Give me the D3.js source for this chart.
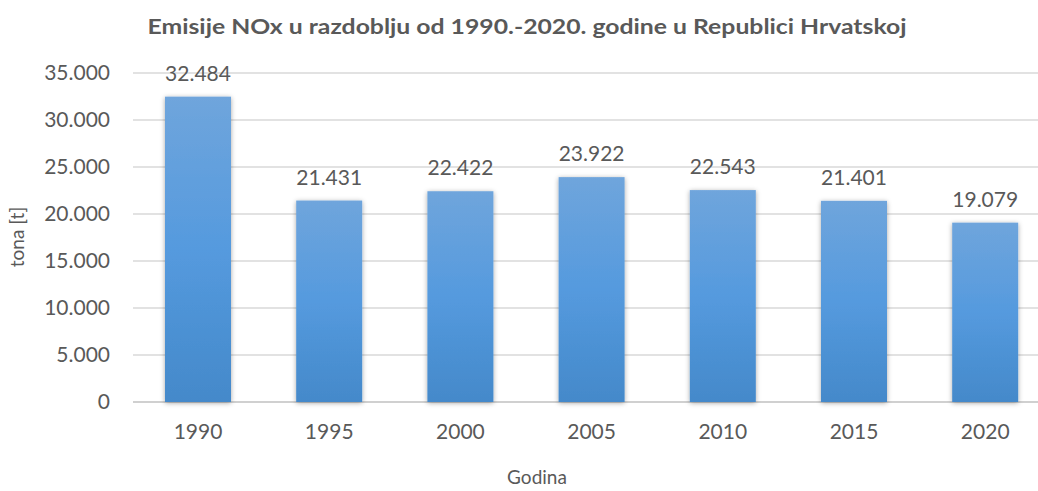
<!DOCTYPE html>
<html><head><meta charset="utf-8">
<script src="https://cdn.jsdelivr.net/npm/d3@7"></script>
<style>body{margin:0;background:#fff}svg{display:block}text{font-family:Lato,"Open Sans",sans-serif;fill:#595959}</style>
</head><body>
<script>
const categories = ["1990","1995","2000","2005","2010","2015","2020"];
const values = [32484,21431,22422,23922,22543,21401,19079];
const yTicks = [0,5000,10000,15000,20000,25000,30000,35000];
const title = "Emisije NOx u razdoblju od 1990.-2020. godine  u Republici Hrvatskoj";

const W=1038,H=491;
const svg=d3.select("body").append("svg").attr("width",W).attr("height",H);
const defs=svg.append("defs");
const g1=defs.append("linearGradient").attr("id","bg").attr("x1",0).attr("y1",0).attr("x2",0).attr("y2",1);
g1.append("stop").attr("offset","0%").attr("stop-color","#6fa5dc");
g1.append("stop").attr("offset","50%").attr("stop-color","#559ade");
g1.append("stop").attr("offset","100%").attr("stop-color","#4489ca");
const f=defs.append("filter").attr("id","sh").attr("x","-20%").attr("y","-10%").attr("width","140%").attr("height","120%");
f.append("feDropShadow").attr("dx",0).attr("dy",1).attr("stdDeviation",2.5).attr("flood-color","#000").attr("flood-opacity",0.35);

const fmt=d3.formatLocale({decimal:",",thousands:".",grouping:[3],currency:["","€"]}).format(",d");
const x=d3.scaleBand().domain(categories).range([132.4,1050.8]).paddingInner(0.497).paddingOuter(0.2485);
const y=d3.scaleLinear().domain([0,35000]).range([402,73]);

svg.append("g").selectAll("line").data(yTicks).join("line")
 .attr("x1",133).attr("x2",W).attr("y1",d=>y(d)).attr("y2",d=>y(d))
 .attr("stroke",d=>d===0?"#d0d0d0":"#d9d9d9").attr("stroke-width",d=>d===0?2:1.3);

const ya=svg.append("g").attr("transform","translate(133,0)").call(d3.axisLeft(y).tickValues(yTicks).tickFormat(d=>fmt(d)).tickSize(0).tickPadding(23));
ya.select(".domain").remove();
ya.selectAll("text").attr("font-size",21).attr("font-family","Lato,sans-serif").attr("fill","#595959");

svg.append("g").selectAll("rect").data(values).join("rect")
 .attr("x",(d,i)=>x(categories[i])).attr("width",x.bandwidth())
 .attr("y",d=>y(d)).attr("height",d=>y(0)-y(d))
 .attr("fill","url(#bg)").attr("filter","url(#sh)");

svg.append("g").selectAll("text").data(values).join("text")
 .attr("x",(d,i)=>x(categories[i])+x.bandwidth()/2).attr("y",d=>y(d)-16)
 .attr("text-anchor","middle").attr("font-size",21).text(d=>fmt(d));

const xa=svg.append("g").attr("transform","translate(0,402)").call(d3.axisBottom(x).tickSize(0).tickPadding(22));
xa.select(".domain").remove();
xa.selectAll("text").attr("font-size",21).attr("font-family","Lato,sans-serif").attr("fill","#595959");

svg.append("text").attr("x",527).attr("y",34).attr("text-anchor","middle").attr("font-size",20.5).attr("font-weight","bold").attr("textLength",759).attr("lengthAdjust","spacingAndGlyphs").text(title);
svg.append("text").attr("transform","translate(24,237) rotate(-90)").attr("text-anchor","middle").attr("font-size",19).text("tona [t]");
svg.append("text").attr("x",537).attr("y",484).attr("text-anchor","middle").attr("font-size",19).text("Godina");
</script>
</body></html>
